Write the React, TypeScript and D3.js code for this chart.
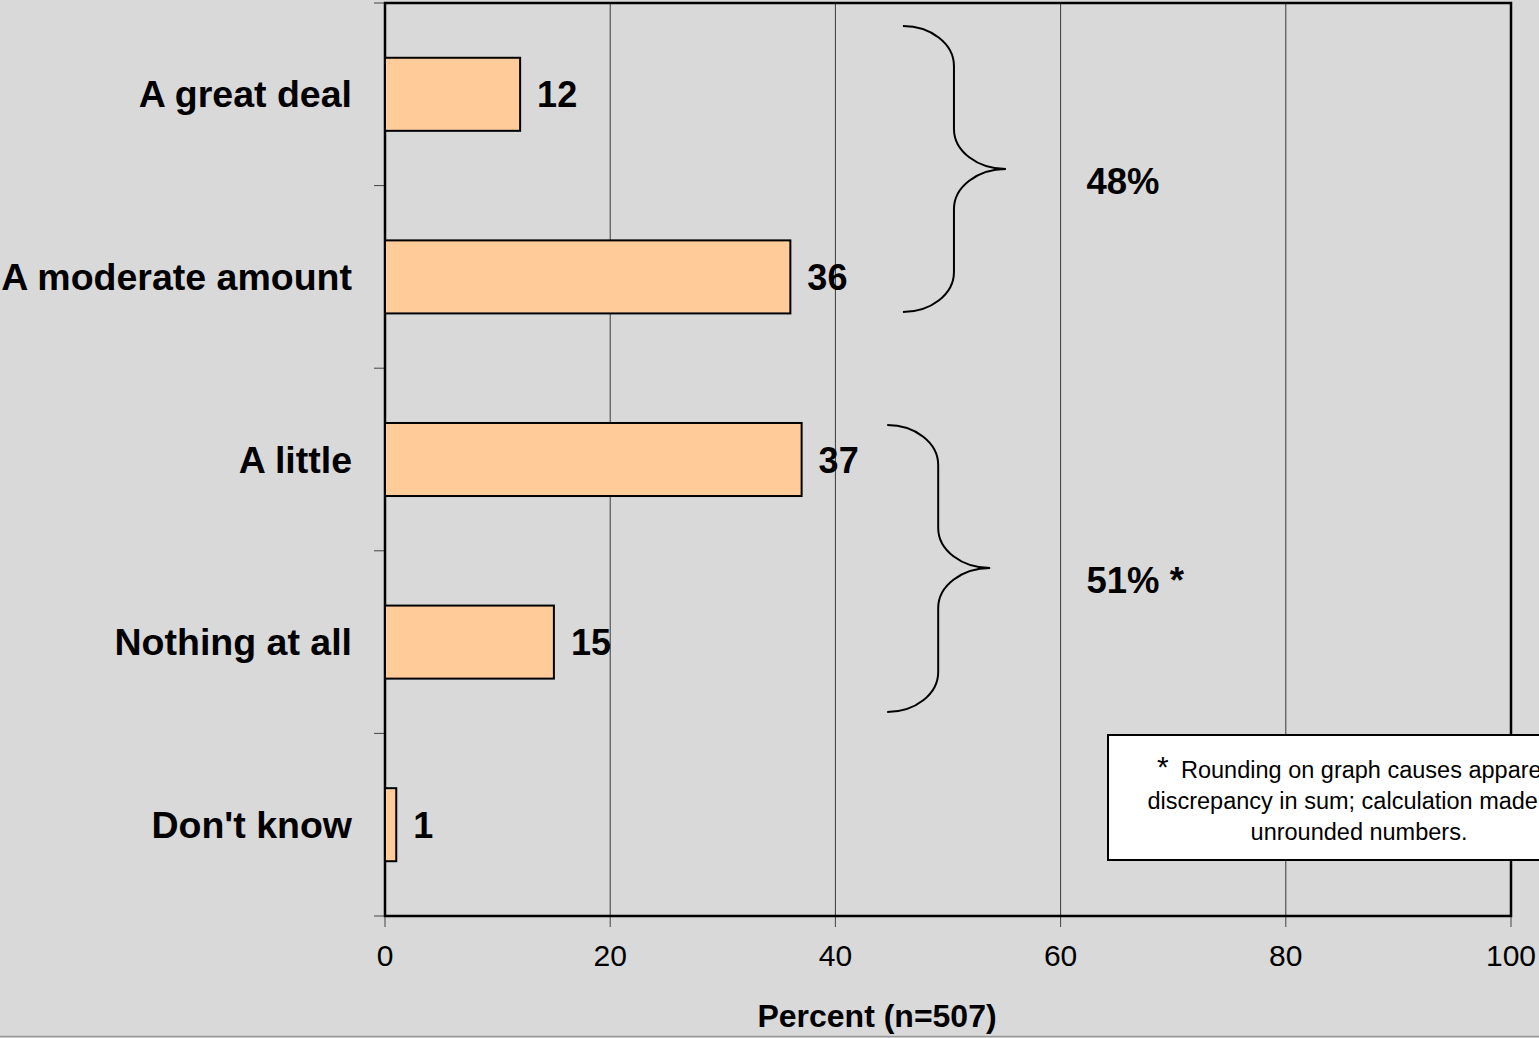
import React, { useEffect, useRef } from "react";
import * as d3 from "d3";

// Survey responses (percent of respondents, n=507)
const categories = ["A great deal", "A moderate amount", "A little", "Nothing at all", "Don't know"];
const values = [12, 36, 37, 15, 1];
const xTicks = [0, 20, 40, 60, 80, 100];

// Grouped totals shown beside curly braces (category-index units for the vertical span)
const groupLabels = ["48%", "51% *"];
const groupBraceX = [46, 44.6];
const groupBraceTop = [0.126, 2.311];
const groupBraceTip = [0.909, 3.094];
const groupBraceBottom = [1.692, 3.883];
const groupLabelX = [62.3, 62.3];

const footnoteLines = ["Rounding on graph causes apparent", "discrepancy in sum; calculation made on", "unrounded numbers."];

const W = 1539;
const H = 1038;
const plot = { left: 385, right: 1511, top: 3, bottom: 916 };
const FONT = "'Liberation Sans', Arial, Helvetica, sans-serif";

export default function App() {
  const ref = useRef<SVGSVGElement | null>(null);

  useEffect(() => {
    document.body.style.margin = "0";
    const svg = d3.select(ref.current);
    svg.selectAll("*").remove();

    const x = d3.scaleLinear().domain([0, 100]).range([plot.left, plot.right]);
    const y = d3
      .scaleBand<string>()
      .domain(categories)
      .range([plot.top, plot.bottom])
      .paddingInner(0.6)
      .paddingOuter(0.3);
    const yIdx = d3.scaleLinear().domain([0, categories.length]).range([plot.top, plot.bottom]);

    svg.append("rect").attr("width", W).attr("height", H).attr("fill", "#d9d9d9");

    // vertical gridlines
    svg
      .append("g")
      .selectAll("line")
      .data(xTicks.filter((t) => t > 0 && t < 100))
      .join("line")
      .attr("x1", (d) => x(d))
      .attr("x2", (d) => x(d))
      .attr("y1", plot.top)
      .attr("y2", plot.bottom)
      .attr("stroke", "#3a3a3a")
      .attr("stroke-width", 1);

    // category-axis tick marks
    svg
      .append("g")
      .selectAll("line")
      .data(d3.range(categories.length + 1))
      .join("line")
      .attr("x1", plot.left - 11)
      .attr("x2", plot.left)
      .attr("y1", (d) => yIdx(d))
      .attr("y2", (d) => yIdx(d))
      .attr("stroke", "#444")
      .attr("stroke-width", 1);

    // value-axis tick marks and labels
    const xa = svg.append("g");
    xa.selectAll("line")
      .data(xTicks)
      .join("line")
      .attr("x1", (d) => x(d))
      .attr("x2", (d) => x(d))
      .attr("y1", plot.bottom)
      .attr("y2", plot.bottom + 11)
      .attr("stroke", "#444")
      .attr("stroke-width", 1);
    xa.selectAll("text")
      .data(xTicks)
      .join("text")
      .attr("x", (d) => x(d))
      .attr("y", 966)
      .attr("text-anchor", "middle")
      .attr("font-family", FONT)
      .attr("font-size", 30)
      .attr("fill", "#000")
      .text((d) => d3.format("d")(d));

    // plot frame
    svg
      .append("rect")
      .attr("x", plot.left)
      .attr("y", plot.top)
      .attr("width", plot.right - plot.left)
      .attr("height", plot.bottom - plot.top)
      .attr("fill", "none")
      .attr("stroke", "#000")
      .attr("stroke-width", 2.5);

    // bars
    svg
      .append("g")
      .selectAll("rect")
      .data(categories)
      .join("rect")
      .attr("x", x(0))
      .attr("y", (d) => y(d)!)
      .attr("width", (d, i) => x(values[i]) - x(0))
      .attr("height", y.bandwidth())
      .attr("fill", "#ffcc99")
      .attr("stroke", "#000")
      .attr("stroke-width", 2);

    // value labels
    svg
      .append("g")
      .selectAll("text")
      .data(categories)
      .join("text")
      .attr("x", (d, i) => x(values[i]) + 17)
      .attr("y", (d) => y(d)! + y.bandwidth() / 2 + 13)
      .attr("font-family", FONT)
      .attr("font-weight", "bold")
      .attr("font-size", 36)
      .attr("fill", "#000")
      .text((d, i) => values[i]);

    // category labels
    svg
      .append("g")
      .selectAll("text")
      .data(categories)
      .join("text")
      .attr("x", 352)
      .attr("y", (d) => y(d)! + y.bandwidth() / 2 + 13)
      .attr("text-anchor", "end")
      .attr("font-family", FONT)
      .attr("font-weight", "bold")
      .attr("font-size", 37.5)
      .attr("fill", "#000")
      .text((d) => d);

    // curly braces grouping categories
    const bracePath = (i: number) => {
      const x0 = x(groupBraceX[i]);
      const xv = x0 + 51;
      const xt = x0 + 103;
      const top = yIdx(groupBraceTop[i]);
      const tip = yIdx(groupBraceTip[i]);
      const bot = yIdx(groupBraceBottom[i]);
      const rx = xv - x0;
      const ry = 40;
      const k = 0.552;
      const p = d3.path();
      p.moveTo(x0, top);
      p.bezierCurveTo(x0 + rx * k, top, xv, top + ry * (1 - k), xv, top + ry);
      p.lineTo(xv, tip - ry);
      p.bezierCurveTo(xv, tip - ry * (1 - k), xt - (xt - xv) * k, tip, xt, tip);
      p.bezierCurveTo(xt - (xt - xv) * k, tip, xv, tip + ry * (1 - k), xv, tip + ry);
      p.lineTo(xv, bot - ry);
      p.bezierCurveTo(xv, bot - ry * (1 - k), x0 + rx * k, bot, x0, bot);
      return p.toString();
    };
    const braces = svg.append("g");
    groupLabels.forEach((lab, i) => {
      braces
        .append("path")
        .attr("d", bracePath(i))
        .attr("fill", "none")
        .attr("stroke", "#000")
        .attr("stroke-width", 2);
      braces
        .append("text")
        .attr("x", x(groupLabelX[i]))
        .attr("y", yIdx(groupBraceTip[i]) + 25)
        .attr("font-family", FONT)
        .attr("font-weight", "bold")
        .attr("font-size", 36.5)
        .attr("fill", "#000")
        .text(lab);
    });

    // footnote box
    const fn = svg.append("g");
    fn.append("rect")
      .attr("x", 1108)
      .attr("y", 735)
      .attr("width", 504)
      .attr("height", 125)
      .attr("fill", "#fff")
      .attr("stroke", "#000")
      .attr("stroke-width", 2);
    const l1 = fn
      .append("text")
      .attr("x", 1157)
      .attr("y", 778)
      .attr("font-family", FONT)
      .attr("font-size", 23.5)
      .attr("fill", "#000");
    l1.append("tspan").attr("font-size", 30).attr("dy", -1).text("*");
    l1.append("tspan").attr("x", 1181).attr("dy", 1).text(footnoteLines[0]);
    fn.selectAll("text.rest")
      .data(footnoteLines.slice(1))
      .join("text")
      .attr("class", "rest")
      .attr("x", 1359)
      .attr("y", (d, i) => 809 + i * 30.5)
      .attr("text-anchor", "middle")
      .attr("font-family", FONT)
      .attr("font-size", 23.5)
      .attr("fill", "#000")
      .text((d) => d);

    // axis title
    svg
      .append("text")
      .attr("x", 877)
      .attr("y", 1027)
      .attr("text-anchor", "middle")
      .attr("font-family", FONT)
      .attr("font-weight", "bold")
      .attr("font-size", 32)
      .attr("fill", "#000")
      .text("Percent (n=507)");

    // bottom edge rule
    svg
      .append("line")
      .attr("x1", 0)
      .attr("x2", W)
      .attr("y1", 1036.5)
      .attr("y2", 1036.5)
      .attr("stroke", "#999")
      .attr("stroke-width", 1.5);
  }, []);

  return (
    <svg
      ref={ref}
      width={W}
      height={H}
      style={{ position: "absolute", left: 0, top: 0, display: "block" }}
    />
  );
}
